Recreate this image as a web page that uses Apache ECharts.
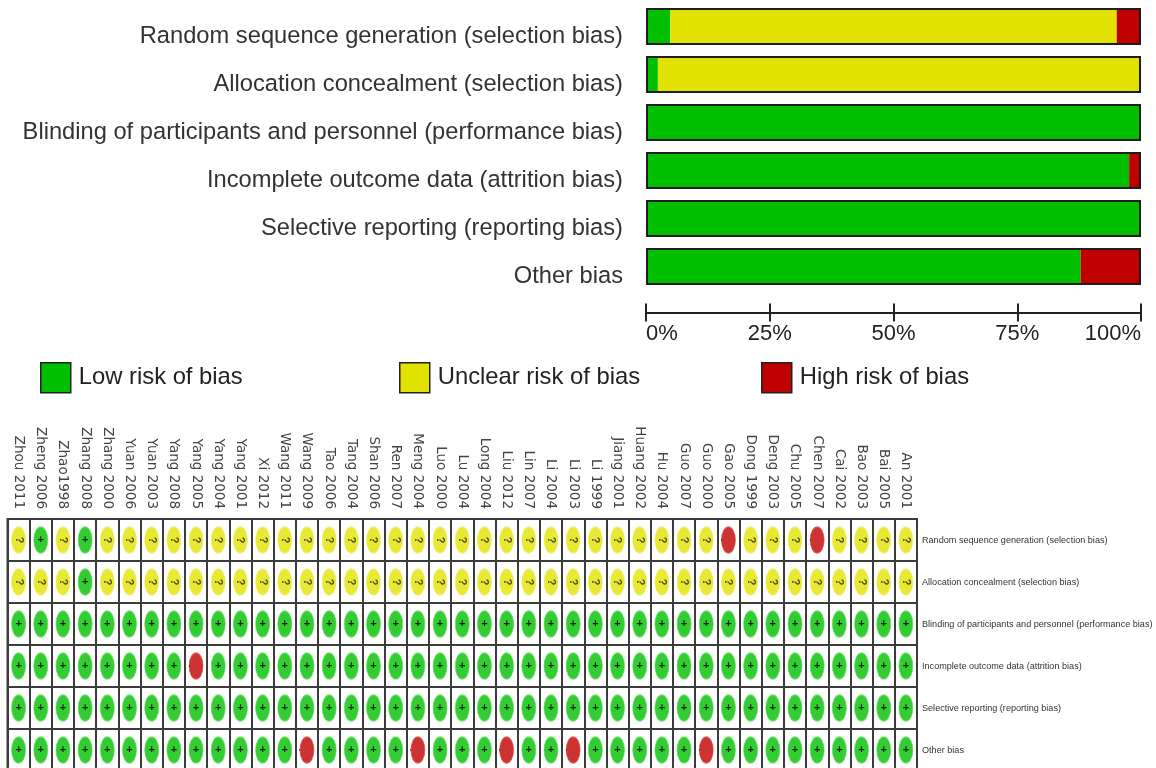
<!DOCTYPE html>
<html>
<head>
<meta charset="utf-8">
<script src="https://cdn.jsdelivr.net/npm/echarts@6/dist/echarts.min.js"></script>
<style>
html,body{margin:0;padding:0;background:#fff;}
#chart{width:1156px;height:768px;}
</style>
</head>
<body>
<div id="chart"></div>
<script>
// ---- Domains (risk of bias items) ----
const domains = [
  'Random sequence generation (selection bias)',
  'Allocation concealment (selection bias)',
  'Blinding of participants and personnel (performance bias)',
  'Incomplete outcome data (attrition bias)',
  'Selective reporting (reporting bias)',
  'Other bias'
];

// ---- Risk of bias graph: percentage of studies per judgement ----
const lowPct     = [4.9, 2.4, 100, 97.6, 100, 87.8];
const unclearPct = [90.2, 97.6, 0, 0, 0, 0];
const highPct    = [4.9, 0, 0, 2.4, 0, 12.2];

// ---- Risk of bias summary ----
const studies = [
  'Zhou 2011','Zheng 2006','Zhao1998','Zhang 2008','Zhang 2000','Yuan 2006','Yuan 2003',
  'Yang 2008','Yang 2005','Yang 2004','Yang 2001','Xi 2012','Wang 2011','Wang 2009',
  'Tao 2006','Tang 2004','Shan 2006','Ren 2007','Meng 2004','Luo 2000','Lu 2004',
  'Long 2004','Liu 2012','Lin 2007','Li 2004','Li 2003','Li 1999','Jiang 2001',
  'Huang 2002','Hu 2004','Guo 2007','Guo 2000','Gao 2005','Dong 1999','Deng 2003',
  'Chu 2005','Chen 2007','Cai 2002','Bao 2003','Bai 2005','An 2001'
];
// L = low risk (+), U = unclear (?), H = high risk (-)
const randomSeq  = ['U','L','U','L','U','U','U','U','U','U','U','U','U','U','U','U','U','U','U','U','U','U','U','U','U','U','U','U','U','U','U','U','H','U','U','U','H','U','U','U','U'];
const allocation = ['U','U','U','L','U','U','U','U','U','U','U','U','U','U','U','U','U','U','U','U','U','U','U','U','U','U','U','U','U','U','U','U','U','U','U','U','U','U','U','U','U'];
const blinding   = ['L','L','L','L','L','L','L','L','L','L','L','L','L','L','L','L','L','L','L','L','L','L','L','L','L','L','L','L','L','L','L','L','L','L','L','L','L','L','L','L','L'];
const incomplete = ['L','L','L','L','L','L','L','L','H','L','L','L','L','L','L','L','L','L','L','L','L','L','L','L','L','L','L','L','L','L','L','L','L','L','L','L','L','L','L','L','L'];
const selective  = ['L','L','L','L','L','L','L','L','L','L','L','L','L','L','L','L','L','L','L','L','L','L','L','L','L','L','L','L','L','L','L','L','L','L','L','L','L','L','L','L','L'];
const otherBias  = ['L','L','L','L','L','L','L','L','L','L','L','L','L','H','L','L','L','L','H','L','L','L','H','L','L','H','L','L','L','L','L','H','L','L','L','L','L','L','L','L','L'];
const judgements = [randomSeq, allocation, blinding, incomplete, selective, otherBias];

const legendNames = ['Low risk of bias', 'Unclear risk of bias', 'High risk of bias'];

// ---- styling ----
const GREEN = '#00bf00', YELLOW = '#e2e200', RED = '#c00000';
const TXT = '#333';
const FONT = "'Liberation Sans', Arial, sans-serif";
const GRIDLINE = '#3c3c3c';

function cells(code) {
  const out = [];
  judgements.forEach((arr, d) => arr.forEach((j, s) => { if (j === code) out.push([s, d]); }));
  return out;
}
const totals = lowPct.map((v, i) => v + unclearPct[i] + highPct[i]);

const chart = echarts.init(document.getElementById('chart'), null, {renderer: 'canvas'});
const option = {
  animation: false,
  backgroundColor: '#fff',
  legend: legendNames.map((n, i) => ({
    data: [n],
    left: [40, 399, 761][i],
    top: 362,
    padding: 0,
    itemWidth: 30,
    itemHeight: 30,
    icon: 'rect',
    selectedMode: false,
    itemStyle: {borderColor: '#222', borderWidth: 1.5},
    textStyle: {fontSize: 23.8, color: '#222', fontFamily: FONT, padding: [0, 0, 0, 3]}
  })),
  grid: [
    // bars of the risk of bias graph
    {left: 646, width: 495, top: 2.5, height: 288, outerBoundsMode: 'none', containLabel: false},
    // summary table
    {left: 7.5, width: 909.5, top: 519, height: 252, show: true, borderColor: GRIDLINE, borderWidth: 2,
     backgroundColor: '#fff', outerBoundsMode: 'none', containLabel: false},
    // label band for the graph's domain names (text sits a little below the bar centres)
    {left: 646, width: 495, top: 12, height: 288, outerBoundsMode: 'none', containLabel: false}
  ],
  xAxis: [
    {
      type: 'value', gridIndex: 0, min: 0, max: 100, interval: 25, position: 'bottom', offset: 22,
      axisLine: {show: true, lineStyle: {color: '#222', width: 2}},
      axisTick: {show: true, length: 9, lineStyle: {color: '#222', width: 2}},
      axisLabel: {formatter: '{value}%', fontSize: 22, color: '#222', fontFamily: FONT, margin: 10,
                  alignMinLabel: 'left', alignMaxLabel: 'right'},
      splitLine: {show: false}
    },
    {
      type: 'value', gridIndex: 0, min: 0, max: 100, interval: 25, position: 'bottom', offset: 22,
      axisLine: {show: false},
      axisTick: {show: true, inside: true, length: 9, lineStyle: {color: '#222', width: 2}},
      axisLabel: {show: false},
      splitLine: {show: false}
    },
    {
      type: 'category', gridIndex: 1, data: studies, position: 'top', boundaryGap: true,
      axisLine: {show: false}, axisTick: {show: false},
      axisLabel: {rotate: 90, interval: 0, fontSize: 13.5, color: '#444', fontFamily: "'DejaVu Sans', sans-serif", margin: 10},
      splitLine: {show: true, interval: 0, lineStyle: {color: GRIDLINE, width: 2}}
    },
    {
      type: 'value', gridIndex: 2, min: 0, max: 100, show: false
    }
  ],
  yAxis: [
    {
      type: 'category', gridIndex: 0, data: domains, inverse: true,
      axisLine: {show: false}, axisTick: {show: false}, axisLabel: {show: false}
    },
    {
      type: 'category', gridIndex: 1, data: domains, inverse: true, position: 'right',
      axisLine: {show: false}, axisTick: {show: false},
      axisLabel: {fontSize: 9.1, color: '#333', fontFamily: FONT, margin: 5},
      splitLine: {show: true, interval: 0, lineStyle: {color: GRIDLINE, width: 2}}
    },
    {
      type: 'category', gridIndex: 2, data: domains, inverse: true,
      axisLine: {show: false}, axisTick: {show: false},
      axisLabel: {fontSize: 23.7, color: TXT, fontFamily: FONT, margin: 23}
    }
  ],
  series: [
    {name: legendNames[0], type: 'bar', stack: 'rob', xAxisIndex: 0, yAxisIndex: 0, data: lowPct, barWidth: 37, barGap: '-100%', itemStyle: {color: GREEN}},
    {name: legendNames[1], type: 'bar', stack: 'rob', xAxisIndex: 0, yAxisIndex: 0, data: unclearPct, barWidth: 37, barGap: '-100%', itemStyle: {color: YELLOW}},
    {name: legendNames[2], type: 'bar', stack: 'rob', xAxisIndex: 0, yAxisIndex: 0, data: highPct, barWidth: 37, barGap: '-100%', itemStyle: {color: RED}},
    {name: 'outline', type: 'bar', xAxisIndex: 0, yAxisIndex: 0, data: totals, barWidth: 37, barGap: '-100%', z: 5, silent: true,
     itemStyle: {color: 'transparent', borderColor: '#1e1e1e', borderWidth: 2}},
    {name: 'Low', type: 'scatter', xAxisIndex: 2, yAxisIndex: 1, data: cells('L'), symbol: 'circle', symbolSize: [14, 26],
     itemStyle: {color: '#00c000', borderColor: '#5fdc5f', borderWidth: 1},
     label: {show: true, position: 'inside', formatter: '+', color: '#000', fontSize: 11, fontWeight: 'bold', fontFamily: FONT}},
    {name: 'Unclear', type: 'scatter', xAxisIndex: 2, yAxisIndex: 1, data: cells('U'), symbol: 'circle', symbolSize: [14, 26],
     itemStyle: {color: '#e4e400', borderColor: '#eeee70', borderWidth: 1},
     label: {show: true, position: 'inside', formatter: '?', rotate: -90, color: '#222', fontSize: 11, fontWeight: 'bold', fontFamily: FONT}},
    {name: 'High', type: 'scatter', xAxisIndex: 2, yAxisIndex: 1, data: cells('H'), symbol: 'circle', symbolSize: [14, 26],
     itemStyle: {color: '#c00000', borderColor: '#d85050', borderWidth: 1},
     label: {show: true, position: 'inside', formatter: '-', rotate: -90, color: '#400', fontSize: 9, fontFamily: FONT, offset: [0, 7]}}
  ]
};
chart.setOption(option);
</script>
</body>
</html>
